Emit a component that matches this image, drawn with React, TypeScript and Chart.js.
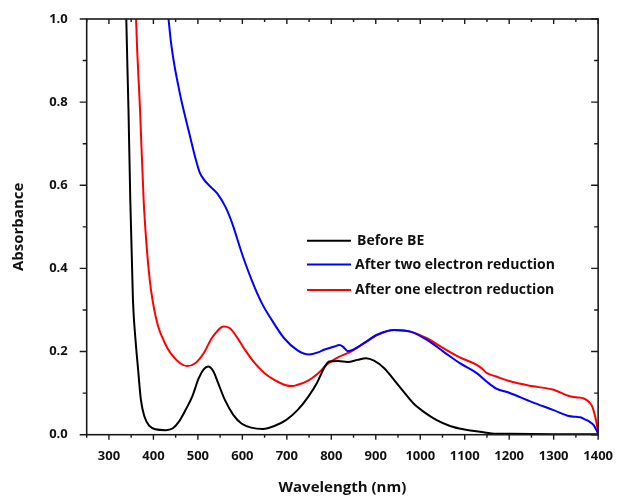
import React, { useEffect, useRef } from "react";
import { Chart, registerables } from "chart.js";

Chart.register(...registerables);

// Wavelengths (nm) and absorbance
const wlBefore = [330, 339, 344, 348, 354, 360, 365, 372, 380, 391, 405, 428, 443, 457, 472, 487, 502, 513, 523, 535, 546, 561, 580, 598, 620, 646, 672, 698, 724, 748, 768, 785, 795, 815, 837, 859, 878, 896, 919, 941, 963, 985, 1008, 1037, 1067, 1097, 1134, 1171, 1200, 1300, 1400];
const absBefore = [1.6, 1.0, 0.78, 0.565, 0.324, 0.225, 0.164, 0.083, 0.043, 0.021, 0.013, 0.011, 0.015, 0.031, 0.059, 0.091, 0.136, 0.157, 0.164, 0.152, 0.123, 0.083, 0.047, 0.027, 0.017, 0.014, 0.021, 0.035, 0.059, 0.091, 0.125, 0.163, 0.176, 0.177, 0.175, 0.18, 0.184, 0.178, 0.16, 0.132, 0.103, 0.075, 0.055, 0.035, 0.021, 0.013, 0.007, 0.002, 0.002, 0.001, 0.001];

const wlTwo = [420, 434, 440, 447, 455, 462, 480, 495, 504, 514, 525, 543, 562, 577, 599, 621, 644, 665, 694, 724, 750, 770, 785, 807, 818, 826, 837, 848, 874, 904, 941, 978, 1015, 1052, 1089, 1127, 1149, 1171, 1200, 1250, 1300, 1334, 1350, 1360, 1370, 1381, 1390, 1396, 1400];
const absTwo = [1.15, 1.0, 0.94, 0.89, 0.845, 0.808, 0.728, 0.663, 0.631, 0.613, 0.6, 0.581, 0.548, 0.509, 0.436, 0.372, 0.316, 0.278, 0.232, 0.203, 0.193, 0.198, 0.205, 0.212, 0.216, 0.212, 0.201, 0.204, 0.221, 0.241, 0.252, 0.248, 0.228, 0.2, 0.172, 0.148, 0.128, 0.111, 0.101, 0.079, 0.059, 0.045, 0.043, 0.042, 0.037, 0.031, 0.023, 0.011, 0.003];

const wlOne = [355, 361, 370, 378, 385, 392, 398, 405, 412, 420, 431, 443, 460, 476, 494, 513, 531, 546, 557, 572, 587, 606, 628, 650, 672, 698, 712, 724, 748, 770, 789, 815, 844, 874, 904, 941, 978, 1015, 1052, 1089, 1127, 1140, 1150, 1171, 1200, 1250, 1300, 1334, 1350, 1368, 1380, 1387, 1393, 1397, 1400];
const absOne = [1.3, 1.0, 0.78, 0.565, 0.45, 0.37, 0.324, 0.285, 0.256, 0.234, 0.209, 0.19, 0.172, 0.165, 0.172, 0.196, 0.232, 0.252, 0.26, 0.256, 0.236, 0.204, 0.172, 0.148, 0.132, 0.119, 0.117, 0.12, 0.13, 0.147, 0.168, 0.186, 0.2, 0.22, 0.24, 0.252, 0.248, 0.232, 0.208, 0.186, 0.168, 0.158, 0.148, 0.14, 0.129, 0.117, 0.108, 0.093, 0.09, 0.087, 0.078, 0.067, 0.045, 0.025, 0.003];

const seriesNames = ["Before BE", "After two electron reduction", "After one electron reduction"];
const seriesColors = ["#000000", "#0000ff", "#ff0000"];

const xMin = 250, xMax = 1400, xStep = 50;
const yMin = 0, yMax = 1.0, yStep = 0.1;

const FONT = "'Open Sans'";

const framePlugin = {
  id: "frameTicks",
  afterDraw(chart: any) {
    const { ctx, chartArea } = chart;
    const { left, right, top, bottom } = chartArea;
    const xs = chart.scales.x;
    const ys = chart.scales.y;
    ctx.save();
    ctx.strokeStyle = "#1a1a1a";
    ctx.lineWidth = 1.6;
    ctx.strokeRect(left, top, right - left, bottom - top);
    ctx.lineWidth = 1.4;
    ctx.beginPath();
    for (let v = xMin; v <= xMax + 1e-6; v += xStep) {
      const px = xs.getPixelForValue(v);
      const major = Math.round(v) % 100 === 0;
      const len = major ? 5 : 3;
      ctx.moveTo(px, bottom);
      ctx.lineTo(px, bottom + len);
      ctx.moveTo(px, top);
      ctx.lineTo(px, top + len);
    }
    let i = 0;
    for (let v = yMin; v <= yMax + 1e-6; v += yStep, i++) {
      const py = ys.getPixelForValue(v);
      const major = i % 2 === 0;
      const len = major ? 7 : 4;
      ctx.moveTo(left - len, py);
      ctx.lineTo(left, py);
      ctx.moveTo(right, py);
      ctx.lineTo(right - len, py);
    }
    ctx.stroke();

    // legend
    const rows = [240.7, 264.5, 290];
    ctx.font = `bold 14px ${FONT}`;
    ctx.textBaseline = "middle";
    ctx.textAlign = "left";
    seriesNames.forEach((name, k) => {
      ctx.strokeStyle = seriesColors[k];
      ctx.lineWidth = 2;
      ctx.beginPath();
      ctx.moveTo(307, rows[k]);
      ctx.lineTo(351, rows[k]);
      ctx.stroke();
      ctx.fillStyle = "#111";
      ctx.fillText(name, k === 0 ? 357 : 355, rows[k] + 0.5);
    });
    ctx.restore();
  },
};

export default function App() {
  const ref = useRef<HTMLCanvasElement | null>(null);
  useEffect(() => {
    if (!ref.current) return;
    const mk = (wl: number[], a: number[]) => wl.map((x, i) => ({ x, y: a[i] }));
    const datasets = [mk(wlBefore, absBefore), mk(wlTwo, absTwo), mk(wlOne, absOne)].map((d, k) => ({
      label: seriesNames[k],
      data: d,
      borderColor: seriesColors[k],
      backgroundColor: seriesColors[k],
      borderWidth: 2,
      pointRadius: 0,
      cubicInterpolationMode: "monotone" as const,
      fill: false,
    }));
    const tickFont = { family: FONT, weight: "bold" as const, size: 13 };
    const chart = new Chart(ref.current, {
      type: "line",
      data: { datasets },
      plugins: [framePlugin],
      options: {
        animation: false,
        responsive: false,
        layout: { padding: { top: 19, right: 17, left: 0, bottom: 0 } },
        plugins: { legend: { display: false }, tooltip: { enabled: false } },
        scales: {
          x: {
            type: "linear",
            min: xMin,
            max: xMax,
            grid: { display: false },
            border: { display: false },
            ticks: {
              stepSize: xStep,
              autoSkip: false,
              maxRotation: 0,
              padding: 6,
              color: "#111",
              font: tickFont,
              callback: (v: any) => (Math.round(v) % 100 === 0 && v >= 300 ? String(v) : ""),
            },
            title: {
              display: true,
              text: "Wavelength (nm)",
              color: "#111",
              font: { family: FONT, weight: "bold", size: 15 },
              padding: { top: 4, bottom: 1 },
            },
            afterFit: (s: any) => {
              s.height = 63.3;
            },
          },
          y: {
            min: yMin,
            max: yMax,
            grid: { display: false },
            border: { display: false },
            ticks: {
              stepSize: yStep,
              autoSkip: false,
              padding: 11,
              color: "#111",
              font: tickFont,
              callback: (v: any) => {
                const k = Math.round(v * 10);
                return k % 2 === 0 ? (k / 10).toFixed(1) : "";
              },
            },
            title: {
              display: true,
              text: "Absorbance",
              color: "#111",
              font: { family: FONT, weight: "bold", size: 15 },
              padding: { top: 10, bottom: 0 },
            },
            afterFit: (s: any) => {
              s.width = 86.7;
            },
          },
        },
      },
    });
    return () => chart.destroy();
  }, []);
  return (
    <div style={{ position: "fixed", left: 0, top: 0, width: 619, height: 498, background: "#fff" }}>
      <canvas ref={ref} width={619} height={498} style={{ display: "block" }} />
    </div>
  );
}
